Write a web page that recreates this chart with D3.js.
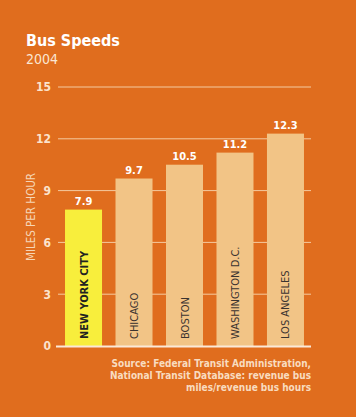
<!DOCTYPE html>
<html><head><meta charset="utf-8">
<script src="https://cdn.jsdelivr.net/npm/d3@7"></script>
<style>html,body{margin:0;padding:0;background:#E06D1E;}</style>
</head><body>
<svg id="c" width="356" height="417"></svg>
<script>
const categories = ["NEW YORK CITY","CHICAGO","BOSTON","WASHINGTON D.C.","LOS ANGELES"];
const speeds = [7.9, 9.7, 10.5, 11.2, 12.3];
const valueLabels = ["7.9","9.7","10.5","11.2","12.3"];
const yTicks = [0,3,6,9,12,15];
const sourceLines = ["Source: Federal Transit Administration,","National Transit Database: revenue bus","miles/revenue bus hours"];

const font = "'DejaVu Sans Condensed','DejaVu Sans',sans-serif";
const svg = d3.select("#c");
svg.append("rect").attr("width",356).attr("height",417).attr("fill","#E06D1E");

const x = d3.scaleBand().domain(categories).range([58,311]).paddingInner(0.267).paddingOuter(0.139);
const y = d3.scaleLinear().domain([0,15]).range([346,87]);

// title
svg.append("text").attr("x",26).attr("y",46).attr("fill","#fff").attr("font-family",font)
  .attr("font-weight","bold").attr("font-size",16).text("Bus Speeds");
svg.append("text").attr("x",26).attr("y",64).attr("fill","#fbe6d2").attr("font-family",font)
  .attr("font-size",14).text("2004");

// grid + axis
const yAxis = d3.axisLeft(y).tickValues(yTicks).tickSize(0).tickPadding(0);
const ag = svg.append("g").attr("transform","translate(51,0)").call(yAxis);
ag.select(".domain").remove();
ag.selectAll("text").attr("fill","#fbe3cc").attr("font-family",font).attr("font-weight","bold").attr("font-size",12).attr("dx",0);

svg.append("g").selectAll("line").data(yTicks.filter(d=>d>0)).join("line")
  .attr("x1",58).attr("x2",311).attr("y1",d=>y(d)).attr("y2",d=>y(d))
  .attr("stroke","#F4CBA0").attr("stroke-width",1);

// bars
svg.append("g").selectAll("rect").data(categories).join("rect")
  .attr("x",d=>x(d)).attr("width",x.bandwidth())
  .attr("y",(d,i)=>y(speeds[i])).attr("height",(d,i)=>y(0)-y(speeds[i]))
  .attr("fill",(d,i)=>i===0?"#F8EE3C":"#F2C486");

// baseline
svg.append("line").attr("x1",56).attr("x2",311).attr("y1",y(0)+0.5).attr("y2",y(0)+0.5)
  .attr("stroke","#FBE9D8").attr("stroke-width",2);

// value labels
svg.append("g").selectAll("text").data(categories).join("text")
  .attr("x",d=>x(d)+x.bandwidth()/2).attr("y",(d,i)=>y(speeds[i])-5)
  .attr("text-anchor","middle").attr("fill","#fff").attr("font-family",font)
  .attr("font-weight","bold").attr("font-size",11).text((d,i)=>valueLabels[i]);

// category labels
svg.append("g").selectAll("text").data(categories).join("text")
  .attr("transform",d=>`translate(${x(d)+x.bandwidth()/2+4},${y(0)-7}) rotate(-90)`)
  .attr("fill",(d,i)=>i===0?"#222":"#3a3330").attr("font-family",font)
  .attr("font-weight",(d,i)=>i===0?"bold":"normal").attr("font-size",11).text(d=>d);

// y label
svg.append("text").attr("transform","translate(35,217) rotate(-90)").attr("text-anchor","middle")
  .attr("fill","#F6D5B5").attr("font-family",font).attr("font-size",11.5).text("MILES PER HOUR");

// source
svg.append("g").selectAll("text").data(sourceLines).join("text")
  .attr("x",311).attr("y",(d,i)=>367+i*12).attr("text-anchor","end")
  .attr("fill","#F8DCC0").attr("font-family",font).attr("font-weight","bold").attr("font-size",10).text(d=>d);
</script>
</body></html>
